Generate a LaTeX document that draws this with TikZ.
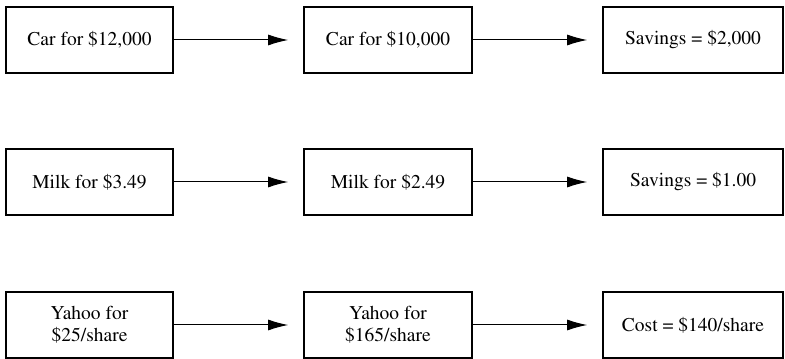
\documentclass[tikz,border=0pt]{standalone}
\usepackage[T1]{fontenc}
\renewcommand{\rmdefault}{ptm}
\usetikzlibrary{arrows.meta}
\begin{document}
\begin{tikzpicture}[x=1pt,y=1pt,
  box/.style={draw, line width=1.7pt, minimum height=66pt, inner sep=0pt, align=center,
    font=\rmfamily\fontsize{19.5}{22}\selectfont},
  link/.style={line width=1pt, -{Latex[length=20pt,width=11pt]}, shorten >=15pt}]
\useasboundingbox (0,0) rectangle (785,359);
% car
\node[box, minimum width=167pt] (car0) at (89.5,319){Car for \$12,000};
\node[box, minimum width=168pt] (car1) at (388,319){Car for \$10,000};
\node[box, minimum width=180pt] (car2) at (693,319){Savings = \$2,000};
\draw[link](car0) -- (car1);
\draw[link](car1) -- (car2);
% milk
\node[box, minimum width=167pt] (milk0) at (89.5,177){Milk for \$3.49};
\node[box, minimum width=168pt] (milk1) at (388,177){Milk for \$2.49};
\node[box, minimum width=180pt] (milk2) at (693,177){Savings = \$1.00};
\draw[link](milk0) -- (milk1);
\draw[link](milk1) -- (milk2);
% yahoo
\node[box, minimum width=167pt] (yahoo0) at (89.5,34){Yahoo for\\\$25/share};
\node[box, minimum width=168pt] (yahoo1) at (388,34){Yahoo for\\\$165/share};
\node[box, minimum width=180pt] (yahoo2) at (693,34){Cost = \$140/share};
\draw[link](yahoo0) -- (yahoo1);
\draw[link](yahoo1) -- (yahoo2);
\end{tikzpicture}
\end{document}
